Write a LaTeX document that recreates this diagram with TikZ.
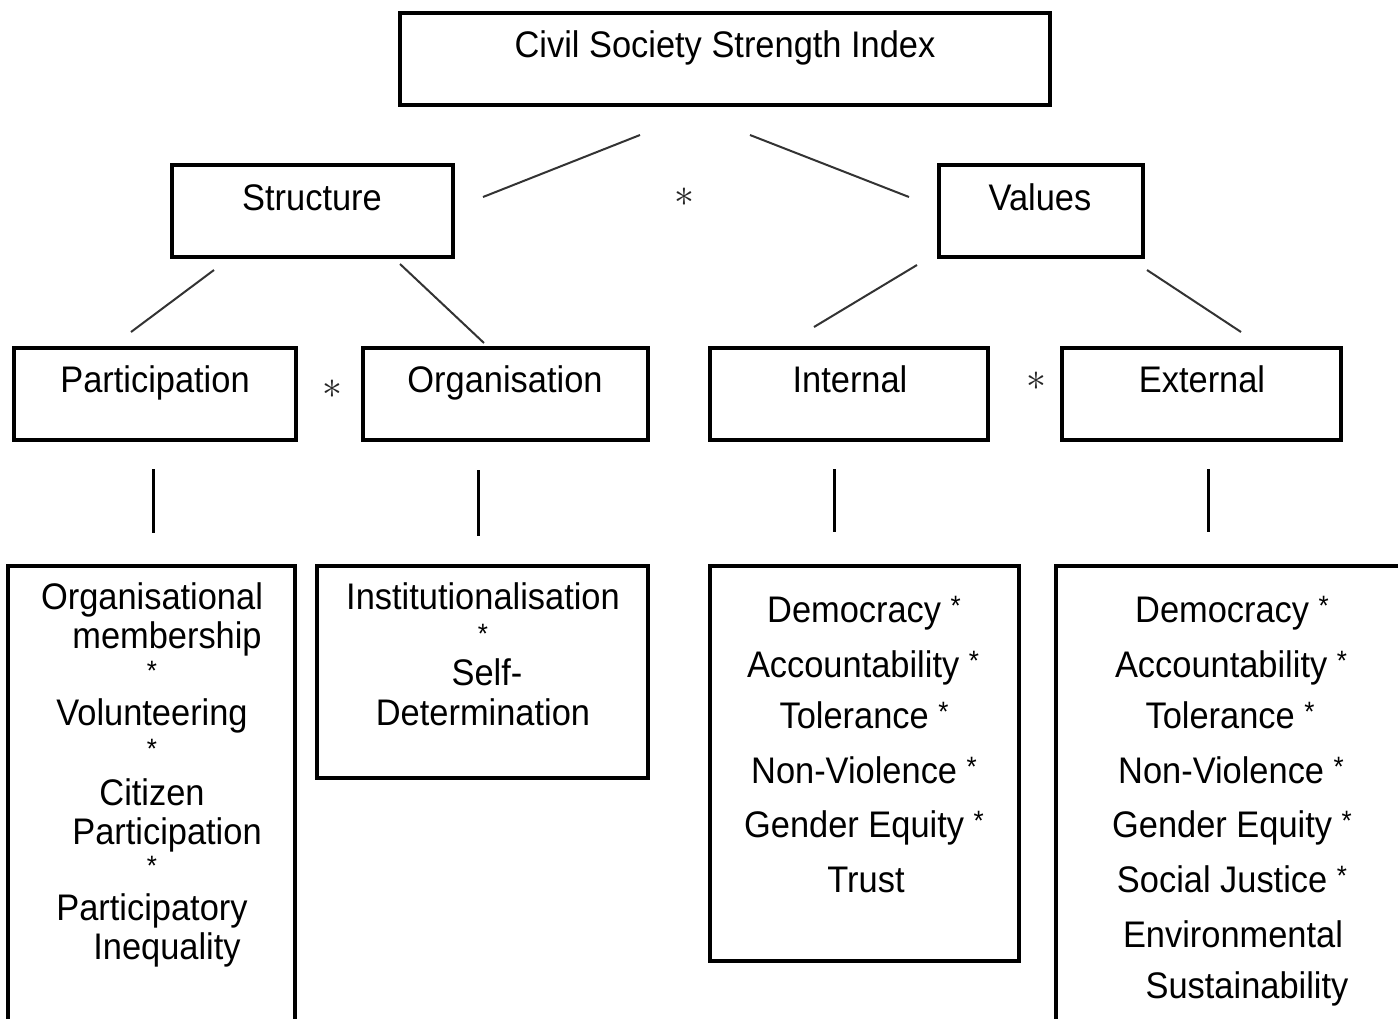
\documentclass[tikz,border=0pt]{standalone}
\usepackage{fontspec}
\setmainfont{Liberation Sans}[FakeStretch=0.93]
\newcommand{\sst}{\raisebox{7pt}{\fontsize{28}{28}\selectfont *}}
\newcommand{\bigst}{\scalebox{1.6}{$\ast$}}
\tikzset{
  box/.style={draw, line width=3.3pt, inner sep=0pt},
  lbl/.style={anchor=base, inner sep=0pt, font=\fontsize{37}{44}\selectfont},
  link/.style={line width=2pt, black!80},
  stem/.style={line width=3pt},
  mult/.style={inner sep=0pt, black!85, font=\fontsize{36}{36}\selectfont},
}
\begin{document}
\begin{tikzpicture}[x=1pt,y=-1pt]
\useasboundingbox (0,0) rectangle (1398,1018);
\node[box, minimum width=650pt, minimum height=92pt] (csi) at (725,59) {};
\node[lbl] (csi-t) at (725,57) {Civil Society Strength Index};

\node[box, minimum width=281pt, minimum height=92pt] (str) at (312.5,211) {};
\node[lbl] (str-t) at (312,210) {Structure};
\node[box, minimum width=204pt, minimum height=92pt] (val) at (1041,211) {};
\node[lbl] (val-t) at (1040,210) {Values};
\node[mult] (m1) at (684,197) {\bigst};

\node[box, minimum width=282pt, minimum height=92pt] (par) at (155,394) {};
\node[lbl] (par-t) at (155,392) {Participation};
\node[box, minimum width=285pt, minimum height=92pt] (org) at (505.5,394) {};
\node[lbl] (org-t) at (505,392) {Organisation};
\node[box, minimum width=278pt, minimum height=92pt] (int) at (849,394) {};
\node[lbl] (int-t) at (850,392) {Internal};
\node[box, minimum width=279pt, minimum height=92pt] (ext) at (1201.5,394) {};
\node[lbl] (ext-t) at (1202,392) {External};
\node[mult] (m2) at (332,389) {\bigst};
\node[mult] (m3) at (1036,381) {\bigst};

\coordinate (csi-l) at (640,135); \coordinate (str-r) at (483,197);
\coordinate (csi-r) at (750,135); \coordinate (val-l) at (909,197);
\coordinate (str-a) at (214,270); \coordinate (par-a) at (131,332);
\coordinate (str-b) at (400,264); \coordinate (org-a) at (484,343);
\coordinate (val-a) at (917,265); \coordinate (int-a) at (814,327);
\coordinate (val-b) at (1147,270); \coordinate (ext-a) at (1241,332);
\draw[link] (csi-l)--(str-r);
\draw[link] (csi-r)--(val-l);
\draw[link] (str-a)--(par-a);
\draw[link] (str-b)--(org-a);
\draw[link] (val-a)--(int-a);
\draw[link] (val-b)--(ext-a);

\coordinate (par-s) at (153,469); \coordinate (par-e) at (153,533);
\coordinate (org-s) at (478,470); \coordinate (org-e) at (478,536);
\coordinate (int-s) at (834,469); \coordinate (int-e) at (834,532);
\coordinate (ext-s) at (1208,469); \coordinate (ext-e) at (1208,532);
\draw[stem] (par-s)--(par-e);
\draw[stem] (org-s)--(org-e);
\draw[stem] (int-s)--(int-e);
\draw[stem] (ext-s)--(ext-e);

\node[box, minimum width=287pt, minimum height=474pt] (parl) at (151.5,803) {};
\node[box, minimum width=331pt, minimum height=212pt] (orgl) at (482.5,672) {};
\node[box, minimum width=309pt, minimum height=395pt] (intl) at (864.5,763.5) {};
\node[box, minimum width=354pt, minimum height=474pt] (extl) at (1233,803) {};

\foreach \x/\y/\t [count=\i] in {152/609/Organisational, 167/648/membership,
  152/687/\sst, 152/725/Volunteering, 152/765/\sst, 152/805/Citizen,
  167/844/Participation, 152/882/\sst, 152/920/Participatory, 167/959/Inequality}
  \node[lbl] (pa\i) at (\x,\y) {\t};
\foreach \x/\y/\t [count=\i] in {483/609/Institutionalisation, 483/650/\sst,
  487/685/Self-, 483/725/Determination}
  \node[lbl] (or\i) at (\x,\y) {\t};
\foreach \x/\y/\t [count=\i] in {864/622/{Democracy \sst}, 863/677/{Accountability \sst},
  864/728/{Tolerance \sst}, 864/783/{Non-Violence \sst}, 864/837/{Gender Equity \sst},
  866/892/Trust}
  \node[lbl] (in\i) at (\x,\y) {\t};
\foreach \x/\y/\t [count=\i] in {1232/622/{Democracy \sst}, 1231/677/{Accountability \sst},
  1230/728/{Tolerance \sst}, 1231/783/{Non-Violence \sst}, 1232/837/{Gender Equity \sst},
  1232/892/{Social Justice \sst}, 1233/947/Environmental, 1247/998/Sustainability}
  \node[lbl] (ex\i) at (\x,\y) {\t};
\end{tikzpicture}
\end{document}
